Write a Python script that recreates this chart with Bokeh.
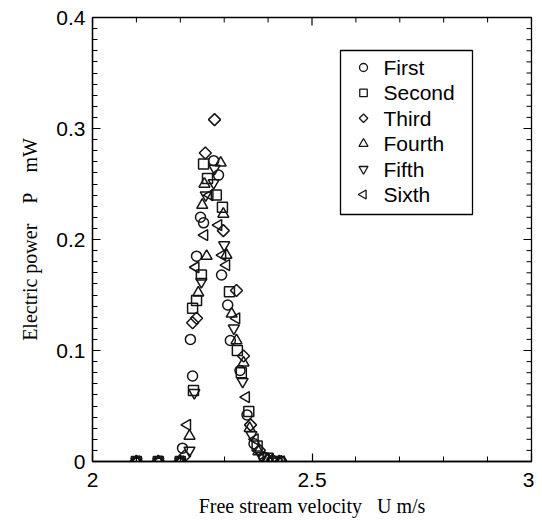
import math
from bokeh.plotting import figure
from bokeh.models import Range1d, FixedTicker
from bokeh.core.properties import value
from bokeh.embed import file_html
from bokeh.resources import INLINE

# ---- data ----
series_names = ["First", "Second", "Third", "Fourth", "Fifth", "Sixth"]

first_u = [2.10, 2.15, 2.20, 2.205, 2.228, 2.223, 2.237, 2.246, 2.253, 2.276, 2.287, 2.294, 2.308, 2.314, 2.336, 2.352, 2.368, 2.39, 2.41, 2.43]
first_p = [0.0, 0.0, 0.0, 0.012, 0.077, 0.110, 0.185, 0.220, 0.215, 0.271, 0.258, 0.168, 0.141, 0.109, 0.082, 0.042, 0.016, 0.004, 0.001, 0.0]

second_u = [2.10, 2.15, 2.20, 2.23, 2.228, 2.237, 2.248, 2.262, 2.253, 2.282, 2.296, 2.312, 2.330, 2.339, 2.356, 2.375, 2.40, 2.42]
second_p = [0.0, 0.0, 0.0, 0.064, 0.138, 0.145, 0.168, 0.255, 0.268, 0.240, 0.229, 0.153, 0.100, 0.080, 0.045, 0.014, 0.003, 0.0]

third_u = [2.10, 2.15, 2.20, 2.21, 2.228, 2.237, 2.257, 2.278, 2.298, 2.328, 2.344, 2.36, 2.38, 2.41, 2.43]
third_p = [0.0, 0.0, 0.0, 0.005, 0.125, 0.129, 0.278, 0.308, 0.208, 0.154, 0.095, 0.033, 0.010, 0.001, 0.0]

fourth_u = [2.10, 2.15, 2.20, 2.221, 2.241, 2.26, 2.25, 2.255, 2.292, 2.298, 2.305, 2.317, 2.328, 2.344, 2.358, 2.378, 2.40, 2.425]
fourth_p = [0.0, 0.0, 0.0, 0.023, 0.152, 0.185, 0.231, 0.250, 0.269, 0.223, 0.186, 0.133, 0.109, 0.089, 0.030, 0.009, 0.002, 0.0]

fifth_u = [2.10, 2.15, 2.20, 2.221, 2.232, 2.248, 2.258, 2.278, 2.276, 2.300, 2.322, 2.342, 2.362, 2.385, 2.41]
fifth_p = [0.0, 0.0, 0.0, 0.010, 0.062, 0.162, 0.240, 0.264, 0.251, 0.195, 0.120, 0.072, 0.024, 0.005, 0.0]

sixth_u = [2.10, 2.15, 2.20, 2.216, 2.235, 2.255, 2.267, 2.287, 2.296, 2.305, 2.328, 2.35, 2.37, 2.395, 2.43]
sixth_p = [0.0, 0.0, 0.0, 0.033, 0.175, 0.204, 0.240, 0.213, 0.186, 0.177, 0.129, 0.058, 0.020, 0.002, 0.0]

x_ticks = [2.0, 2.5, 3.0]
x_tick_labels = ["2", "2.5", "3"]
x_minor = [2.1, 2.2, 2.3, 2.4, 2.6, 2.7, 2.8, 2.9]
y_ticks = [0.0, 0.1, 0.2, 0.3, 0.4]
y_tick_labels = ["0", "0.1", "0.2", "0.3", "0.4"]
y_minor = [round(0.01 * i, 2) for i in range(41)]

NB = "\u00a0"
x_title = "Free stream velocity" + NB * 3 + "U" + NB + "m/s"
y_title = "Electric power" + NB * 4 + "P" + NB * 4 + "mW"

# ---- figure ----
FRAME_L, FRAME_T, FRAME_W, FRAME_H = 92, 17, 439, 444
X0, X1, Y0, Y1 = 2, 3, 0, 0.4
p = figure(frame_width=FRAME_W, frame_height=FRAME_H, output_backend="svg", toolbar_location=None,
           x_range=Range1d(X0, X1), y_range=Range1d(Y0, Y1),
           min_border_left=FRAME_L, min_border_right=3, min_border_top=FRAME_T, min_border_bottom=64,
           background_fill_color="white", border_fill_color="white")
p.grid.visible = False
p.outline_line_color = "black"
p.outline_line_width = 1.3

MAJ_IN, MIN_IN = 8, 5

for ax in (p.xaxis[0], p.yaxis[0]):
    ax.major_tick_in = MAJ_IN
    ax.major_tick_out = 0
    ax.minor_tick_in = MIN_IN
    ax.minor_tick_out = 0
    ax.axis_line_color = "black"
    ax.axis_line_width = 1.3
    ax.major_tick_line_color = "black"
    ax.major_tick_line_width = 1.2
    ax.minor_tick_line_color = "black"
    ax.minor_tick_line_width = 1.0
    ax.major_label_text_font = "Liberation Sans"
    ax.major_label_text_font_size = "21px"
    ax.major_label_text_color = "black"
    ax.axis_label_text_font = "Liberation Serif"
    ax.axis_label_text_font_style = "normal"
    ax.axis_label_text_font_size = "20px"
    ax.axis_label_text_color = "black"

p.xaxis.ticker = FixedTicker(ticks=x_ticks, minor_ticks=x_minor)
p.yaxis.ticker = FixedTicker(ticks=y_ticks, minor_ticks=y_minor)
p.xaxis.major_label_overrides = {t: l for t, l in zip(x_ticks, x_tick_labels)}
p.yaxis.major_label_overrides = {t: l for t, l in zip(y_ticks, y_tick_labels)}
p.xaxis.major_label_standoff = 11
p.yaxis.major_label_standoff = 7
p.xaxis.axis_label = x_title
p.yaxis.axis_label = y_title
p.xaxis.axis_label_standoff = 5
p.yaxis.axis_label_standoff = 12

# inward ticks on the top and right edges of the frame
px_x = (X1 - X0) / FRAME_W   # data units per pixel, horizontal
px_y = (Y1 - Y0) / FRAME_H   # data units per pixel, vertical
p.segment(x0=x_ticks, x1=x_ticks, y0=[Y1] * len(x_ticks), y1=[Y1 - MAJ_IN * px_y] * len(x_ticks),
          line_color="black", line_width=1.2)
p.segment(x0=x_minor, x1=x_minor, y0=[Y1] * len(x_minor), y1=[Y1 - MIN_IN * px_y] * len(x_minor),
          line_color="black", line_width=1.0)
p.segment(x0=[X1] * len(y_ticks), x1=[X1 - MAJ_IN * px_x] * len(y_ticks), y0=y_ticks, y1=y_ticks,
          line_color="black", line_width=1.2)
p.segment(x0=[X1] * len(y_minor), x1=[X1 - MIN_IN * px_x] * len(y_minor), y0=y_minor, y1=y_minor,
          line_color="black", line_width=1.0)

# ---- markers ----
us = [first_u, second_u, third_u, fourth_u, fifth_u, sixth_u]
ps = [first_p, second_p, third_p, fourth_p, fifth_p, sixth_p]
markers = ["circle", "square", "square", "triangle", "inverted_triangle", "triangle"]
sizes = [10, 10, 8.5, 11, 11, 11]
legend_sizes = [8, 7.5, 6, 9, 9, 9]
angles = [0, 0, math.pi / 4, 0, 0, math.pi / 2]
MARK_COLOR = "#151515"

for u, pv, m, s, a in zip(us, ps, markers, sizes, angles):
    p.scatter(u, pv, marker=m, size=s, angle=a, fill_alpha=0,
              line_color=MARK_COLOR, line_width=1.5)


# ---- legend (drawn by hand so that rotated markers show correctly) ----
def dx(px):
    return X0 + (px - FRAME_L) * px_x


def dy(py):
    return Y0 + (FRAME_T + FRAME_H - py) * px_y


LEG_L, LEG_R, LEG_T, LEG_B = 340, 472, 50, 214
ROW0, ROW_STEP = 67, 25.4
p.quad(left=[dx(LEG_L)], right=[dx(LEG_R)], top=[dy(LEG_T)], bottom=[dy(LEG_B)],
       fill_color="white", line_color="black", line_width=1.3)
for i, (name, m, s, a) in enumerate(zip(series_names, markers, legend_sizes, angles)):
    ry = dy(ROW0 + i * ROW_STEP)
    p.scatter([dx(363)], [ry], marker=m, size=s, angle=a, fill_alpha=0,
              line_color=MARK_COLOR, line_width=1.3)
    p.text([dx(383)], [ry], text=[name], text_font=value("Liberation Sans"),
           text_font_size="21px", text_baseline="middle", text_align="left",
           text_color="black")

open("out.html", "w").write(file_html(p, INLINE))
